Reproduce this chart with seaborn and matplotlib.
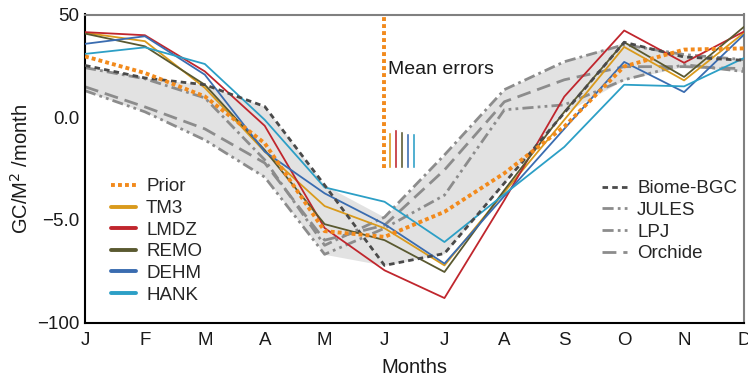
import matplotlib
matplotlib.use("Agg")
import matplotlib.pyplot as plt
from matplotlib.lines import Line2D
import numpy as np
import pandas as pd
import seaborn as sns

months = ["J", "F", "M", "A", "M", "J", "J", "A", "S", "O", "N", "D"]

# Inversion results (gC/m2/month)
prior = [29.6, 21.5, 10.1, -12.7, -55.5, -58.3, -46.1, -27.3, -4.6, 24.7, 32.9, 33.5]
tm3 = [41.1, 37.0, 14.3, -16.8, -43.3, -54.1, -72.2, -36.5, -1.3, 34.2, 17.9, 41.1]
lmdz = [41.4, 39.9, 22.3, -4.2, -54.0, -74.6, -88.1, -40.4, 10.0, 42.2, 26.5, 41.7]
remo = [40.7, 34.5, 15.8, -16.0, -52.1, -59.9, -75.4, -35.5, 2.6, 36.5, 19.6, 44.0]
dehm = [35.7, 39.4, 20.7, -16.8, -37.1, -52.1, -71.3, -38.4, -5.7, 26.9, 12.2, 40.2]
hank = [30.8, 34.0, 25.9, -1.3, -34.2, -41.2, -60.8, -37.5, -14.5, 15.8, 15.0, 28.8]

# Biosphere models
biome_bgc = [25.2, 19.1, 15.8, 5.2, -33.1, -72.2, -66.4, -32.1, 2.1, 36.5, 29.3, 27.7]
jules = [24.1, 18.7, 9.4, -20.8, -62.4, -48.7, -18.4, 13.4, 27.0, 35.3, 30.5, 28.0]
lpj = [12.9, 2.6, -11.1, -29.2, -66.8, -54.1, -38.0, 3.6, 6.0, 18.2, 25.6, 22.2]
orchide = [14.8, 5.0, -5.7, -22.3, -59.9, -52.6, -25.7, 7.5, 18.2, 24.6, 24.6, 23.6]

# Mean errors
error_names = ["TM3", "LMDZ", "REMO", "DEHM", "HANK"]
mean_errors = [17.8, 19.3, 18.3, 17.4, 17.3]
prior_error = 75.0
error_base = -25.0

y_ticks = [50, 0, -50, -100]
y_tick_labels = ["50", "0.0", "\u22125.0", "\u2212100"]

sns.set_theme(style="white")
plt.rcParams["font.family"] = ["Liberation Sans", "DejaVu Sans"]

colors = {
    "Prior": "#f28a1c",
    "TM3": "#d99a1c",
    "LMDZ": "#c0262d",
    "REMO": "#5a5930",
    "DEHM": "#3a6cb0",
    "HANK": "#2c9fc6",
}
gray = "#8c8c8c"
dark = "#4a4a4a"

x = np.arange(len(months))
fig = plt.figure(figsize=(7.48, 3.77), dpi=100)
ax = fig.add_axes([85 / 748, 1 - 322.5 / 377, 659 / 748, 308 / 377])

models = pd.DataFrame({"Biome-BGC": biome_bgc, "JULES": jules, "LPJ": lpj, "Orchide": orchide})
ax.fill_between(x, models.min(axis=1), models.max(axis=1), color="#e2e2e2", lw=0, zorder=1)

model_styles = {
    "JULES": (4, 1.5, 1, 1.5),
    "LPJ": (4, 1.5, 1, 1.5, 1, 1.5),
    "Orchide": (5, 2.5),
}
for name, dash in model_styles.items():
    sns.lineplot(x=x, y=models[name], ax=ax, color=gray, lw=2, dashes=dash, zorder=2)

inv = {"TM3": tm3, "LMDZ": lmdz, "REMO": remo, "DEHM": dehm, "HANK": hank}
for name, vals in inv.items():
    sns.lineplot(x=x, y=vals, ax=ax, color=colors[name], lw=1.3, zorder=3)

sns.lineplot(x=x, y=biome_bgc, ax=ax, color=dark, lw=2, dashes=(2, 1.5), zorder=4)
sns.lineplot(x=x, y=prior, ax=ax, color=colors["Prior"], lw=2.8, dashes=(1.0, 0.8), zorder=5)

# Mean error bars
ax.plot([4.99, 4.99], [error_base, error_base + prior_error], color=colors["Prior"],
        lw=2.8, dashes=(1.0, 0.8), zorder=5, solid_capstyle="butt")
for i, (name, err) in enumerate(zip(error_names, mean_errors)):
    ax.bar(5.09 + 0.1 * i, err, bottom=error_base, width=0.05, color=colors[name], zorder=5)
ax.text(5.05, 23.0, "Mean errors", fontsize=14, va="center", ha="left", color="#1a1a1a")

ax.set_xlim(0, 11)
ax.set_ylim(-100, 50)
ax.set_xticks(x)
ax.set_xticklabels(months)
ax.set_yticks(y_ticks)
ax.set_yticklabels(y_tick_labels)
ax.tick_params(axis="both", direction="in", length=10, width=1.5, labelsize=13.5,
               colors="black", labelcolor="#1a1a1a", pad=4)
ax.tick_params(axis="x", pad=7)
ax.set_xlabel("Months", fontsize=14.5, color="#1a1a1a", labelpad=6)
ax.set_ylabel("GC/M$^2$ /month", fontsize=14.5, color="#1a1a1a", labelpad=4)

for side in ["left", "bottom"]:
    ax.spines[side].set_color("black")
    ax.spines[side].set_linewidth(1.5)
for side in ["top", "right"]:
    ax.spines[side].set_color("#808080")
    ax.spines[side].set_linewidth(1.5)

left_handles = [Line2D([], [], color=colors["Prior"], lw=2.8, dashes=(1.0, 0.8))]
left_handles += [Line2D([], [], color=colors[n], lw=2.8) for n in error_names]
leg1 = ax.legend(left_handles, ["Prior"] + error_names, loc="upper left",
                 bbox_to_anchor=(0.04, 0.468), frameon=False, fontsize=13.5,
                 handlelength=1.3, handletextpad=0.55, labelspacing=0.24,
                 borderpad=0, borderaxespad=0)
ax.add_artist(leg1)

right_handles = [
    Line2D([], [], color=dark, lw=2, dashes=(2, 1.5)),
    Line2D([], [], color=gray, lw=2, dashes=model_styles["JULES"]),
    Line2D([], [], color=gray, lw=2, dashes=model_styles["LPJ"]),
    Line2D([], [], color=gray, lw=2, dashes=model_styles["Orchide"]),
]
ax.legend(right_handles, ["Biome-BGC", "JULES", "LPJ", "Orchide"], loc="upper left",
          bbox_to_anchor=(0.785, 0.462), frameon=False, fontsize=13.5,
          handlelength=1.3, handletextpad=0.55, labelspacing=0.24,
          borderpad=0, borderaxespad=0)

fig.savefig("out.png", dpi=100)
